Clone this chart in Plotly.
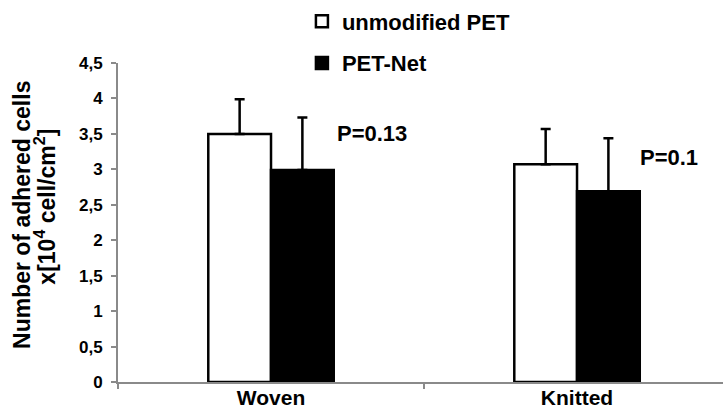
import plotly.graph_objects as go

categories = ["Woven", "Knitted"]
series_names = ["unmodified PET", "PET-Net"]
unmodified = [3.50, 3.07]
unmodified_err = [0.49, 0.50]
petnet = [2.99, 2.69]
petnet_err = [0.74, 0.75]
p_labels = ["P=0.13", "P=0.1"]
p_pos_x = [0.33, 1.30]
p_pos_y = [3.51, 3.17]
y_ticks = [0, 0.5, 1, 1.5, 2, 2.5, 3, 3.5, 4, 4.5]
y_tick_text = ["0", "0,5", "1", "1,5", "2", "2,5", "3", "3,5", "4", "4,5"]
y_title_lines = ["Number of adhered cells", "x[10<sup>4</sup> cell/cm<sup>2</sup>]"]

FONT = "Liberation Sans"
AX = "#8a8a8a"

fig = go.Figure()
fig.add_trace(go.Bar(
    x=categories, y=unmodified, name=series_names[0], legendgroup="a",
    marker=dict(color="white", line=dict(color="black", width=2.5)),
    error_y=dict(type="data", array=unmodified_err, arrayminus=[0, 0], symmetric=False,
                 color="black", thickness=2.5, width=5),
))
fig.add_trace(go.Bar(
    x=categories, y=petnet, name=series_names[1], legendgroup="b",
    marker=dict(color="black", line=dict(color="black", width=2.5)),
    error_y=dict(type="data", array=petnet_err, arrayminus=[0, 0], symmetric=False,
                 color="black", thickness=2.5, width=5),
))

for t, x, y in zip(p_labels, p_pos_x, p_pos_y):
    fig.add_annotation(x=x, y=y, xref="x", yref="y", text=t, showarrow=False,
                       font=dict(family=FONT, size=22, color="black", weight="bold"))

# two-line y axis title (tight line spacing as in the reference)
for t, x, y in zip(y_title_lines, [-0.159, -0.121], [0.523, 0.549]):
    fig.add_annotation(x=x, y=y, xref="paper", yref="paper", text=t, showarrow=False,
                       textangle=-90, xanchor="center", yanchor="middle",
                       font=dict(family=FONT, size=23, color="black", weight="bold"))

fig.update_layout(
    width=723, height=410,
    margin=dict(l=118, r=0, t=63, b=28),
    paper_bgcolor="white", plot_bgcolor="white",
    barmode="group", bargap=0.59, bargroupgap=0,
    font=dict(family=FONT, color="black"),
    legend=dict(xref="paper", yref="paper", x=0.304, y=1.196,
                xanchor="left", yanchor="top", tracegroupgap=10,
                font=dict(family=FONT, size=22, color="black", weight="bold"),
                bgcolor="rgba(0,0,0,0)"),
    showlegend=True,
)
fig.update_xaxes(
    range=[-0.5, 1.477], showline=True, linecolor=AX, linewidth=2,
    ticks="outside", tickson="boundaries", ticklen=5, tickcolor=AX, tickwidth=1.5,
    tickfont=dict(family=FONT, size=21, color="black", weight="bold"),
    ticklabelstandoff=-4,
    showgrid=False, zeroline=False, automargin=False,
)
fig.update_yaxes(
    range=[0, 4.5], tickvals=y_ticks, ticktext=y_tick_text,
    showline=True, linecolor=AX, linewidth=2,
    ticks="outside", ticklen=5, tickcolor=AX, tickwidth=1.5,
    tickfont=dict(family=FONT, size=17, color="black", weight="bold"),
    ticklabelstandoff=5,
    showgrid=False, zeroline=False, automargin=False,
)

fig.write_html("out.html")
